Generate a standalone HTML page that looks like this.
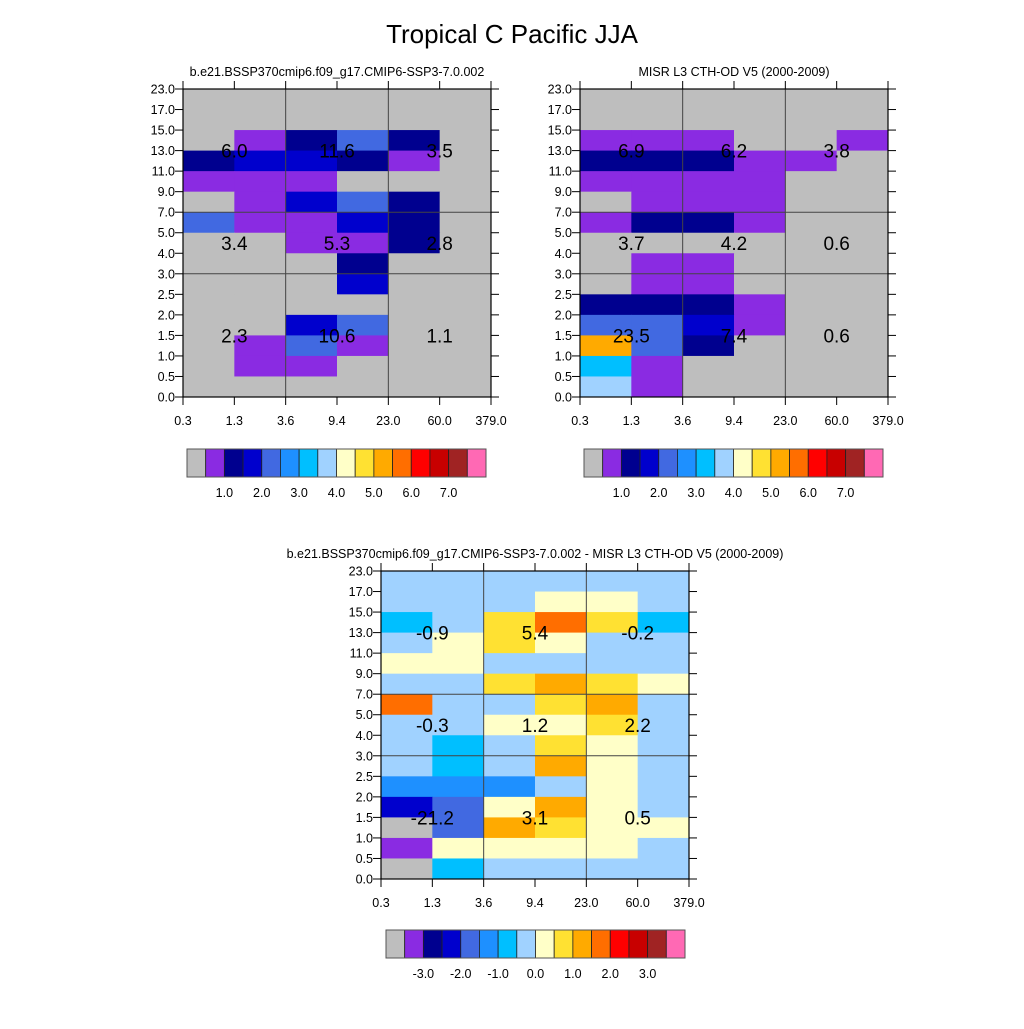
<!DOCTYPE html>
<html><head><meta charset="utf-8"><style>
html,body{margin:0;padding:0;background:#fff;}
svg text{font-family:"Liberation Sans",sans-serif;fill:#000;}
</style></head><body>
<svg id="chart" width="1024" height="1024" viewBox="0 0 1024 1024" xmlns="http://www.w3.org/2000/svg">
<rect width="1024" height="1024" fill="#fff"/>
<text x="512" y="43" font-size="26" text-anchor="middle">Tropical C Pacific JJA</text>
</svg>
<script>
const xTickLabels = ["0.3","1.3","3.6","9.4","23.0","60.0","379.0"];
const yTickLabels = ["23.0","17.0","15.0","13.0","11.0","9.0","7.0","5.0","4.0","3.0","2.5","2.0","1.5","1.0","0.5","0.0"];
const colors = ["#bebebe","#8a2be2","#00008f","#0000cd","#4169e1","#1e90ff","#00bfff","#a0d2ff","#ffffc8","#ffe132","#ffaa00","#ff6e00","#ff0000","#c80000","#a02323","#ff69b4"];
const cbLabelsTop = ["1.0","2.0","3.0","4.0","5.0","6.0","7.0"];
const cbLabelsDiff = ["-3.0","-2.0","-1.0","0.0","1.0","2.0","3.0"];
const modelValues = [
[0.2,0.2,0.2,0.2,0.2,0.2],
[0.2,0.2,0.2,0.2,0.2,0.2],
[0.2,0.7,1.2,2.2,1.2,0.2],
[1.2,1.7,1.7,1.2,0.7,0.2],
[0.7,0.7,0.7,0.2,0.2,0.2],
[0.2,0.7,1.7,2.2,1.2,0.2],
[2.2,0.7,0.7,1.7,1.2,0.2],
[0.2,0.2,0.7,0.7,1.2,0.2],
[0.2,0.2,0.2,1.2,0.2,0.2],
[0.2,0.2,0.2,1.7,0.2,0.2],
[0.2,0.2,0.2,0.2,0.2,0.2],
[0.2,0.2,1.7,2.2,0.2,0.2],
[0.2,0.7,2.2,0.7,0.2,0.2],
[0.2,0.7,0.7,0.2,0.2,0.2],
[0.2,0.2,0.2,0.2,0.2,0.2]];
const obsValues = [
[0.2,0.2,0.2,0.2,0.2,0.2],
[0.2,0.2,0.2,0.2,0.2,0.2],
[0.7,0.7,0.7,0.2,0.2,0.7],
[1.2,1.2,1.2,0.7,0.7,0.2],
[0.7,0.7,0.7,0.7,0.2,0.2],
[0.2,0.7,0.7,0.7,0.2,0.2],
[0.7,1.2,1.2,0.7,0.2,0.2],
[0.2,0.2,0.2,0.2,0.2,0.2],
[0.2,0.7,0.7,0.2,0.2,0.2],
[0.2,0.7,0.7,0.2,0.2,0.2],
[1.2,1.2,1.2,0.7,0.2,0.2],
[2.2,2.2,1.7,0.7,0.2,0.2],
[5.2,2.2,1.2,0.2,0.2,0.2],
[3.2,0.7,0.2,0.2,0.2,0.2],
[3.7,0.7,0.2,0.2,0.2,0.2]];
const diffValues = [
[-0.2,-0.2,-0.2,-0.2,-0.2,-0.2],
[-0.2,-0.2,-0.2,0.2,0.2,-0.2],
[-0.7,-0.2,0.7,1.7,0.7,-0.7],
[-0.2,0.2,0.7,0.2,-0.2,-0.2],
[0.2,0.2,-0.2,-0.2,-0.2,-0.2],
[-0.2,-0.2,0.7,1.2,0.7,0.2],
[1.7,-0.2,-0.2,0.7,1.2,-0.2],
[-0.2,-0.2,0.2,0.2,0.7,-0.2],
[-0.2,-0.7,-0.2,0.7,0.2,-0.2],
[-0.2,-0.7,-0.2,1.2,0.2,-0.2],
[-1.2,-1.2,-1.2,-0.2,0.2,-0.2],
[-2.2,-1.7,0.2,1.2,0.2,-0.2],
[-3.8,-1.7,1.2,0.7,0.2,0.2],
[-3.2,0.2,0.2,0.2,0.2,-0.2],
[-3.8,-0.7,-0.2,-0.2,-0.2,-0.2]];
const modelTotals = ["6.0","11.6","3.5","3.4","5.3","2.8","2.3","10.6","1.1"];
const obsTotals = ["6.9","6.2","3.8","3.7","4.2","0.6","23.5","7.4","0.6"];
const diffTotals = ["-0.9","5.4","-0.2","-0.3","1.2","2.2","-21.2","3.1","0.5"];

const NS="http://www.w3.org/2000/svg";
const svg=document.getElementById('chart');
function mk(tag,attrs,parent){const e=document.createElementNS(NS,tag);for(const k in attrs)e.setAttribute(k,attrs[k]);(parent||svg).appendChild(e);return e;}
function idxTop(v){return v<0.5?0:Math.min(15,Math.floor((v-0.5)/0.5)+1);}
function idxDiff(v){return v<-3.5?0:Math.min(15,Math.floor((v+3.5)/0.5)+1);}

function drawPanel(name,x0,y0,title,values,totals,idxFn,cb,cbLabels){
  const w=308,h=308,nc=6,nr=15,cw=w/nc,rh=h/nr;
  const g=mk('g',{});
  
  
  const xs=c=>x0+c*cw, ys=r=>y0+r*rh;
  const t=mk('text',{x:x0+w/2,y:y0-13,'font-size':12.5,'text-anchor':'middle'},g);
  t.textContent=title;
  
  
  for(let r=0;r<nr;r++)for(let c=0;c<nc;c++){
    const rc=mk('rect',{x:xs(c),y:ys(r),width:cw+0.5,height:rh+0.5,fill:colors[idxFn(values[r][c])]},g);
    
    
  }
  // grid lines
  [2,4].forEach(c=>mk('line',{x1:xs(c),x2:xs(c),y1:y0,y2:y0+h,stroke:'#444','stroke-width':1},g));
  [6,9].forEach(r=>mk('line',{x1:x0,x2:x0+w,y1:ys(r),y2:ys(r),stroke:'#444','stroke-width':1},g));
  const fr=mk('rect',{x:x0,y:y0,width:w,height:h,fill:'none',stroke:'#000','stroke-width':1.2},g);
  
  
  yTickLabels.forEach((lab,i)=>{
    const y=ys(i);
    mk('line',{x1:x0-8,x2:x0,y1:y,y2:y,stroke:'#000'},g);
    mk('line',{x1:x0+w,x2:x0+w+8,y1:y,y2:y,stroke:'#000'},g);
    const tt=mk('text',{x:x0-8,y:y+4.5,'font-size':12.5,'text-anchor':'end'},g);
    tt.textContent=lab;
    
    
  });
  xTickLabels.forEach((lab,i)=>{
    const x=xs(i);
    mk('line',{x1:x,x2:x,y1:y0-8,y2:y0,stroke:'#000'},g);
    mk('line',{x1:x,x2:x,y1:y0+h,y2:y0+h+8,stroke:'#000'},g);
    const tt=mk('text',{x:x,y:y0+h+28,'font-size':12.5,'text-anchor':'middle'},g);
    tt.textContent=lab;
    
    
  });
  const ay=[ys(3),ys(7.5),ys(12)];
  totals.forEach((s,i)=>{
    const tt=mk('text',{x:xs(1+2*(i%3)),y:ay[Math.floor(i/3)]+7,'font-size':19,'text-anchor':'middle'},g);
    tt.textContent=s;
    
    
  });
  // colorbar
  const bw=(cb.x1-cb.x0)/16;
  const cg=mk('g',{},g);
  
  
  colors.forEach((col,k)=>{
    const b=mk('rect',{x:cb.x0+k*bw,y:cb.y0,width:bw,height:cb.y1-cb.y0,fill:col,stroke:'#222','stroke-width':0.8},cg);
    
    
  });
  mk('rect',{x:cb.x0,y:cb.y0,width:cb.x1-cb.x0,height:cb.y1-cb.y0,fill:'none',stroke:'#555','stroke-width':1},cg);
  cbLabels.forEach((lab,i)=>{
    const tt=mk('text',{x:cb.x0+(2+2*i)*bw,y:cb.y1+20,'font-size':12.5,'text-anchor':'middle'},cg);
    tt.textContent=lab;
    
    
  });
}
drawPanel('model-panel',183,89,'b.e21.BSSP370cmip6.f09_g17.CMIP6-SSP3-7.0.002',modelValues,modelTotals,idxTop,{x0:187,x1:486,y0:449,y1:477},cbLabelsTop);
drawPanel('obs-panel',580,89,'MISR L3 CTH-OD V5 (2000-2009)',obsValues,obsTotals,idxTop,{x0:584,x1:883,y0:449,y1:477},cbLabelsTop);
drawPanel('diff-panel',381,571,'b.e21.BSSP370cmip6.f09_g17.CMIP6-SSP3-7.0.002 - MISR L3 CTH-OD V5 (2000-2009)',diffValues,diffTotals,idxDiff,{x0:386,x1:685,y0:930,y1:958},cbLabelsDiff);
</script>
</body></html>
